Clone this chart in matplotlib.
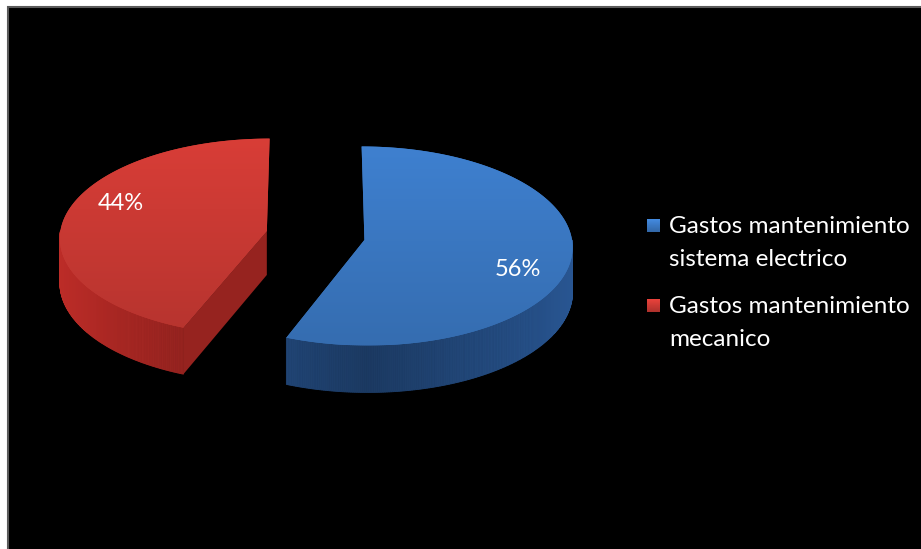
import numpy as np
import matplotlib
matplotlib.use('Agg')
import matplotlib.pyplot as plt
from matplotlib.patches import Rectangle, Polygon
from matplotlib.colors import LinearSegmentedColormap, to_rgb

# ---- data ----
labels = ['Gastos mantenimiento\nsistema electrico', 'Gastos mantenimiento\nmecanico']
values = [56, 44]
pct_labels = ['56%', '44%']
explode = [0.24, 0.24]
top_colors = ['#3b79c4', '#cc3a34']
wall_colors = ['#234a7e', '#a32622']

plt.rcParams['font.family'] = ['Lato', 'DejaVu Sans']

W, H = 921, 549
fig = plt.figure(figsize=(W / 100, H / 100), dpi=100)
fig.patch.set_facecolor('white')

ax = fig.add_axes([0, 0, 1, 1])
ax.patch.set_alpha(0)

# pie geometry computed by matplotlib (unit radius, exploded centres)
wedges, _ = ax.pie(values, explode=explode, startangle=90, counterclock=False,
                   colors=top_colors, radius=1.0, center=(0, 0),
                   wedgeprops=dict(linewidth=0))
for w in wedges:
    w.set_visible(False)

ax.set_aspect('auto')
ax.set_xlim(0, W)
ax.set_ylim(H, 0)
ax.axis('off')

ax.add_patch(Rectangle((8, 7), W, H, facecolor='black', edgecolor='#5a5a5a',
                       linewidth=1.5, zorder=0))

# 3-D projection of the pie plane onto the picture (pixels)
X0, Y0 = 315.5, 235.5
RX, RY, PERSP, DEPTH = 207.0, 98.6, 0.0606, 44.0


def proj(u, v, z=0.0):
    s = 1.0 / (1.0 + PERSP * v)
    return X0 + u * RX * s, Y0 - v * RY * s + z * DEPTH * s


def shade(c, f):
    r, g, b = to_rgb(c)
    return (min(r * f, 1), min(g * f, 1), min(b * f, 1))


for i, w in enumerate(wedges):
    cx, cy = w.center
    t1, t2 = sorted([w.theta1, w.theta2])
    th = np.radians(np.linspace(t1, t2, 400))
    front = np.sin(th) < 0
    # outer curved wall (front part only), shaded strips
    for k in range(len(th) - 1):
        if front[k] or front[k + 1]:
            a, b = th[k], th[k + 1]
            f = 0.78 + 0.38 * abs(np.cos((a + b) / 2))
            quad = [proj(cx + np.cos(a), cy + np.sin(a)), proj(cx + np.cos(b), cy + np.sin(b)),
                    proj(cx + np.cos(b), cy + np.sin(b), 1), proj(cx + np.cos(a), cy + np.sin(a), 1)]
            col = shade(wall_colors[i], f)
            ax.add_patch(Polygon(quad, closed=True, facecolor=col, edgecolor=col,
                                 linewidth=0.6, zorder=2))
    # radial walls facing the viewer
    for phi, nrm in ((t1, t1 - 90), (t2, t2 + 90)):
        if np.sin(np.radians(nrm)) < -0.05:
            p = np.radians(phi)
            quad = [proj(cx, cy), proj(cx + np.cos(p), cy + np.sin(p)),
                    proj(cx + np.cos(p), cy + np.sin(p), 1), proj(cx, cy, 1)]
            ax.add_patch(Polygon(quad, closed=True, facecolor=shade(wall_colors[i], 0.92),
                                 edgecolor='none', zorder=2))
    # top face
    pts = [proj(cx, cy)] + [proj(cx + np.cos(a), cy + np.sin(a)) for a in th]
    top = Polygon(pts, closed=True, facecolor=top_colors[i], edgecolor='none', zorder=3)
    ax.add_patch(top)
    xs = [p[0] for p in pts]
    ys = [p[1] for p in pts]
    cmap = LinearSegmentedColormap.from_list('g', [shade(top_colors[i], 1.06),
                                                   shade(top_colors[i], 0.9)])
    grad = np.linspace(0, 1, 256).reshape(-1, 1)
    im = ax.imshow(grad, extent=(min(xs), max(xs), max(ys), min(ys)), origin='upper',
                   cmap=cmap, aspect='auto', zorder=4, interpolation='bilinear')
    im.set_clip_path(top)
    # percentage label
    mid = np.radians((t1 + t2) / 2 - 11)
    lx, ly = proj(cx + 0.78 * np.cos(mid), cy + 0.78 * np.sin(mid))
    ax.text(lx, ly, pct_labels[i], color='white', fontsize=17,
            ha='center', va='center', zorder=6)

ax.set_xlim(0, W)
ax.set_ylim(H, 0)

# legend: square key aligned with the first line of each label
LEG_X, LEG_Y, ENTRY_DY, LINE_DY, KEY = 647, 233, 80, 33, 13
for i, (lab, c) in enumerate(zip(labels, top_colors)):
    base = LEG_Y + i * ENTRY_DY
    key = Rectangle((LEG_X, base - 14), KEY, KEY, facecolor=c, edgecolor='none', zorder=6)
    ax.add_patch(key)
    kim = ax.imshow(np.linspace(0, 1, 32).reshape(-1, 1),
                    extent=(LEG_X, LEG_X + KEY, base - 14 + KEY, base - 14), origin='upper',
                    cmap=LinearSegmentedColormap.from_list('k', [shade(c, 1.15), shade(c, 0.85)]),
                    aspect='auto', zorder=7)
    kim.set_clip_path(key)
    for j, line in enumerate(lab.split('\n')):
        ax.text(LEG_X + 22, base + j * LINE_DY, line, color='white', fontsize=17.5,
                ha='left', va='baseline', zorder=6)

ax.set_xlim(0, W)
ax.set_ylim(H, 0)

fig.savefig('out.png', dpi=100, facecolor=fig.get_facecolor())
